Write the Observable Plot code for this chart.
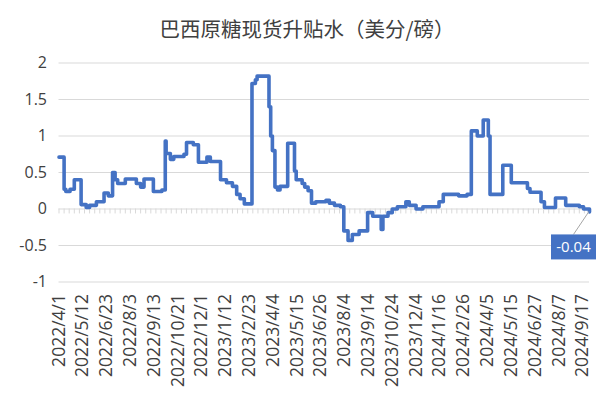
<!DOCTYPE html>
<html><head><meta charset="utf-8">
<script src="https://cdn.jsdelivr.net/npm/d3@7"></script>
<script src="https://cdn.jsdelivr.net/npm/@observablehq/plot@0.6"></script>
<style>
body{margin:0;background:#fff;}
#title{position:relative;height:48px;width:614px;}
#title span{position:absolute;left:0;right:0;top:16px;text-align:center;font-family:"Noto Sans CJK SC",sans-serif;font-size:20.5px;color:#404040;line-height:25px;}
#chart svg{display:block;}
</style></head><body>
<div id="title"><span></span></div>
<div id="chart"></div>
<script>
const chartTitle = "巴西原糖现货升贴水（美分/磅）";
const tickLabels = ["2022/4/1","2022/5/12","2022/6/23","2022/8/3","2022/9/13","2022/10/21","2022/12/1","2023/1/12","2023/2/23","2023/4/4","2023/5/15","2023/6/26","2023/8/4","2023/9/14","2023/10/24","2023/12/4","2024/1/16","2024/2/26","2024/4/5","2024/5/15","2024/6/27","2024/8/7","2024/9/17"];
const labelStep = 28;   // categories between labelled dates
const minorStep = 6;    // categories between minor tick marks
const lastIndex = 624;  // index of the last category
const yTicks = [-1, -0.5, 0, 0.5, 1, 1.5, 2];
// category index where each new level starts, and the level
const stepIdx = [0,6,8,13,18,26,32,36,44,53,58,63,66,69,78,91,96,100,111,121,125,126,131,135,147,150,158,164,174,178,190,197,204,209,213,218,227,231,233,247,249,251,254,257,260,269,277,279,286,289,293,297,302,314,318,324,331,335,340,345,353,363,369,379,381,387,392,398,408,412,420,428,447,452,470,480,485,492,499,505,507,522,532,551,554,567,571,584,596,612,617,624];
const stepVal = [0.71,0.27,0.24,0.27,0.40,0.06,0.02,0.05,0.10,0.22,0.18,0.50,0.40,0.35,0.41,0.35,0.30,0.41,0.24,0.26,0.93,0.76,0.68,0.72,0.75,0.91,0.88,0.64,0.71,0.65,0.40,0.36,0.31,0.20,0.14,0.07,1.72,1.77,1.82,1.40,1.00,0.80,0.30,0.26,0.31,0.90,0.52,0.40,0.35,0.30,0.25,0.08,0.10,0.12,0.08,0.05,0.03,-0.30,-0.43,-0.35,-0.30,-0.05,-0.10,-0.28,-0.10,-0.05,0.00,0.03,0.10,0.05,0.00,0.03,0.10,0.20,0.18,0.20,1.07,1.00,1.22,1.00,0.20,0.60,0.36,0.28,0.23,0.10,0.02,0.15,0.05,0.03,0.00,-0.04];

document.querySelector("#title span").textContent = chartTitle;

const points = stepIdx.map((i, k) => ({i, v: stepVal[k]}));
const last = points[points.length - 1];
const minorTicks = d3.range(0, lastIndex + 1, minorStep);
const labelRows = tickLabels.map((t, k) => ({t, i: k * labelStep}));
const blue = "#4472C4";
const gray = "#404040";

const annotation = Plot.text([last], {
  x: "i", y: "v", text: d => d.v.toFixed(2),
  render: (index, scales, values, dims, context) => {
    const px = scales.x(last.i), py = scales.y(last.v);
    const bx = px - 15.5, by = py + 35.5, bw = 45, bh = 25;
    const g = d3.create("svg:g");
    g.append("line").attr("x1", px).attr("y1", py).attr("x2", bx).attr("y2", by - bh / 2)
      .attr("stroke", "#a6a6a6").attr("stroke-width", 1);
    g.append("rect").attr("x", bx - bw / 2).attr("y", by - bh / 2).attr("width", bw).attr("height", bh)
      .attr("fill", blue);
    g.append("text").attr("x", bx).attr("y", by).attr("dy", "0.35em").attr("text-anchor", "middle")
      .attr("fill", "#fff").attr("font-size", 15).attr("font-family", "'Open Sans', sans-serif")
      .text(last.v.toFixed(2));
    return g.node();
  }
});

const chart = Plot.plot({
  width: 614, height: 347,
  marginLeft: 58.5, marginRight: 25, marginTop: 14.5, marginBottom: 113.5,
  style: {fontFamily: "'Open Sans', sans-serif", fontSize: "16px", color: gray, background: "#fff"},
  x: {domain: [0, lastIndex], axis: null},
  y: {domain: [-1, 2], axis: null},
  marks: [
    Plot.ruleY(yTicks, {stroke: "#d9d9d9", strokeWidth: 1}),
    Plot.ruleX(minorTicks, {x: d => d, y1: 0, y2: -0.068, stroke: "#d9d9d9", strokeWidth: 1}),
    Plot.axisY(yTicks, {tickSize: 0, tickPadding: 12, tickFormat: d => String(d), fontSize: 16, fill: gray, label: null}),
    Plot.text(labelRows, {x: "i", text: "t", frameAnchor: "bottom", rotate: -90, textAnchor: "end", lineAnchor: "middle", dy: 12, fontSize: 17.5, fill: gray}),
    Plot.line(points, {x: "i", y: "v", curve: "step-after", stroke: blue, strokeWidth: 3.6, strokeLinejoin: "round", strokeLinecap: "round"}),
    annotation
  ]
});
document.getElementById("chart").appendChild(chart);
</script>
</body></html>
